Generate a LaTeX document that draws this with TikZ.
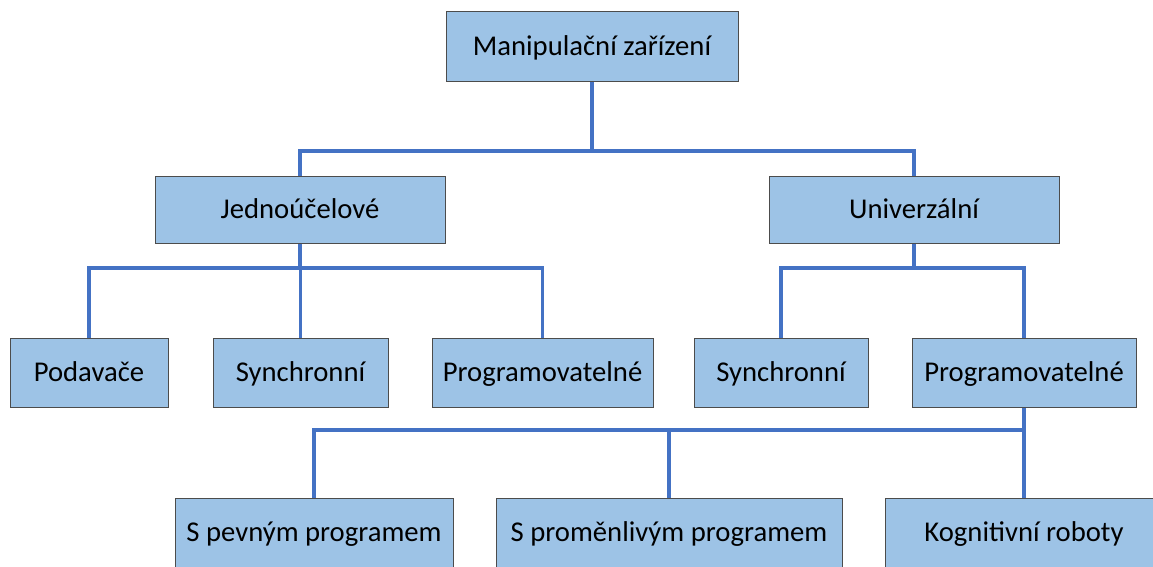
\documentclass[tikz,border=0pt]{standalone}
\usepackage{fontspec}
\setmainfont{Carlito}
\begin{document}
\begin{tikzpicture}[x=0.75pt,y=-0.75pt,
  box/.style={draw=black!70, line width=0.75pt, fill=boxblue, inner sep=0pt,
    font=\fontsize{21.5}{24}\selectfont, text=black, text height=17.5pt, text depth=4.5pt},
  conn/.style={draw=lineblue, line width=2.4pt}]
\definecolor{boxblue}{HTML}{9DC3E6}
\definecolor{lineblue}{HTML}{4472C4}
\useasboundingbox (0,0) rectangle (1153,567);
\clip (0,0) rectangle (1153,567);
% nodes
\node[box, minimum width=219pt, minimum height=52.5pt] (top) at (592,47) {Manipulační zařízení};
\node[box, minimum width=217.5pt, minimum height=50.25pt] (jed) at (300,209.5) {Jednoúčelové};
\node[box, minimum width=217.5pt, minimum height=50.25pt] (uni) at (914,209.5) {Univerzální};
\node[box, minimum width=118.5pt, minimum height=51.75pt] (pod) at (89,372.5) {Podavače};
\node[box, minimum width=131.25pt, minimum height=51.75pt] (syn1) at (300.5,372.5) {Synchronní};
\node[box, minimum width=165.75pt, minimum height=51.75pt] (prg1) at (542.5,372.5) {Programovatelné};
\node[box, minimum width=130.5pt, minimum height=51.75pt] (syn2) at (781,372.5) {Synchronní};
\node[box, minimum width=168pt, minimum height=51.75pt] (prg2) at (1024,372.5) {Programovatelné};
\node[box, minimum width=208.5pt, minimum height=52.5pt] (pev) at (314,533) {S pevným programem};
\node[box, minimum width=259.5pt, minimum height=52.5pt] (pro) at (669,533) {S proměnlivým programem};
\node[box, minimum width=208.5pt, minimum height=52.5pt] (kog) at (1024,533) {Kognitivní roboty};
% connectors
\draw[conn] (top.south) -- (top.south |- 0,151);
\draw[conn] (jed.north) -- (jed.north |- 0,151) -| (uni.north);
\draw[conn] (jed.south) -- (jed.south |- 0,268);
\draw[conn] (pod.north) -- (pod.north |- 0,268) -| (prg1.north);
\draw[conn] (syn1.north) -- (syn1.north |- 0,268);
\draw[conn] (uni.south) -- (uni.south |- 0,268);
\draw[conn] (syn2.north) -- (syn2.north |- 0,268) -| (prg2.north);
\draw[conn] (prg2.south) -- (prg2.south |- 0,430);
\draw[conn] (pev.north) -- (pev.north |- 0,430) -| (kog.north);
\draw[conn] (pro.north) -- (pro.north |- 0,430);
\end{tikzpicture}
\end{document}
